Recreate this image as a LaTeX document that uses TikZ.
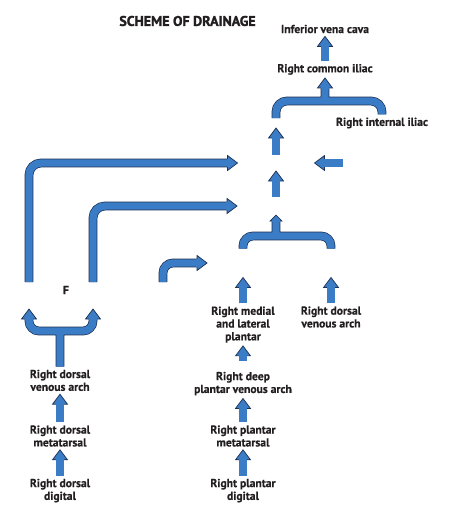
\documentclass[tikz,border=0pt]{standalone}
\usepackage{fontspec}
\setmainfont{PT Sans}[BoldFeatures={FakeBold=0.5}]
\newfontfamily\titlefont{PT Sans}[BoldFeatures={FakeBold=1.8}]

\definecolor{veinblue}{RGB}{59,124,198}
\definecolor{veinedge}{RGB}{28,48,82}
\definecolor{labeltext}{RGB}{35,31,32}

\tikzset{
  fat/.style={draw=veinblue, line width=7.4pt,
              preaction={draw=veinedge, line width=8.8pt}},
  lbl/.style={font=\bfseries\fontsize{11.6}{12.8}\selectfont, align=center,
              inner sep=3pt, text=labeltext},
  erased/.style={inner sep=0pt, outer sep=0pt},
  head/.pic={
    \filldraw[fill=veinblue, draw=veinedge, line width=0.7pt, line join=miter]
      (0,0) -- (-10,7.5) -- (-10,-7.5) -- cycle;
    \fill[veinblue] (-10.8,-3.7) rectangle (-9.2,3.7);
  },
  minihead/.pic={
    \filldraw[fill=veinblue, draw=veinedge, line width=0.7pt, line join=miter]
      (0,0) -- (-6,6) -- (-6,-6) -- cycle;
    \fill[veinblue] (-6.8,-3.7) rectangle (-5.2,3.7);
  }
}

\begin{document}
\begin{tikzpicture}[x=1pt, y=-1pt]
  \useasboundingbox (0,0) rectangle (474,508);

  % printed labels
  \node (title) [lbl, font=\titlefont\bfseries\fontsize{14}{15}\selectfont]
        at (187.5,21) {SCHEME OF DRAINAGE};
  \node (ivc)   [lbl] at (325,29)    {Inferior vena cava};
  \node (rci)   [lbl] at (325,69.4)  {Right common iliac};
  \node (rii)   [lbl] at (382,123)   {Right internal iliac};
  \node (f)     [lbl] at (66,290)    {F};
  \node (rdva1) [lbl] at (60,380.4)  {Right dorsal\\venous arch};
  \node (rdm)   [lbl] at (60,436)    {Right dorsal\\metatarsal};
  \node (rdd)   [lbl] at (60,490.6)  {Right dorsal\\digital};
  \node (rmlp)  [lbl] at (243,324.6) {Right medial\\and lateral\\plantar};
  \node (rdva2) [lbl] at (331,317)   {Right dorsal\\venous arch};
  \node (rdpva) [lbl] at (243,383.6) {Right deep\\plantar venous arch};
  \node (rpm)   [lbl] at (243,436)   {Right plantar\\metatarsal};
  \node (rpd)   [lbl] at (243,490.6) {Right plantar\\digital};

  % labels left blank in the scheme
  \node (rei)  [erased, minimum width=40pt, minimum height=10pt] at (276,123) {};
  \node (fem)  [erased, minimum width=77pt, minimum height=16pt] at (276,163) {};
  \node (dfem) [erased, minimum width=54pt, minimum height=16pt] at (370,163) {};
  \node (pop)  [erased, minimum width=78pt, minimum height=18pt] at (276,206) {};
  \node (pti)  [erased, minimum width=72pt, minimum height=29pt] at (243,263) {};
  \node (ati)  [erased, minimum width=60pt, minimum height=29pt] at (331,263) {};
  \node (gsv)  [erased, minimum width=40pt, minimum height=27pt] at (29,295.5) {};
  \node (ssv)  [erased, minimum width=40pt, minimum height=27pt] at (93,295.5) {};
  \node (perf) [erased, minimum width=40pt, minimum height=27pt] at (163,295.5) {};
  \coordinate (jct1) at (325,101);
  \coordinate (jct2) at (60,331);
  \coordinate (jct3) at (276,236);

  % shafts
  \draw[fat] (rci.north) -- ([yshift=-10pt]ivc.south);
  \draw[fat, rounded corners=11pt] (rei.north) |- (jct1) -| (rii.north)
        (jct1) -- ([yshift=-10pt]rci.south);
  \draw[fat] (fem.north) -- ([yshift=-10pt]rei.south);
  \draw[fat] (pop.north) -- ([yshift=-10pt]fem.south);
  \draw[fat] (dfem.west) -- ([xshift=10pt]fem.east);
  \draw[fat, rounded corners=12pt] (gsv.north) |- ([xshift=-10pt]fem.west);
  \draw[fat, rounded corners=12pt] (ssv.north) |- ([xshift=-10pt]pop.west);
  \draw[fat, rounded corners=10pt] (perf.north) |- ([xshift=-10pt]pti.west);
  \draw[fat, rounded corners=10pt] (pti.north) |- (jct3) -| (ati.north)
        (jct3) -- ([yshift=-6pt]pop.south);
  \draw[fat] (rmlp.north) -- ([yshift=-10pt]pti.south);
  \draw[fat] (rdva2.north) -- ([yshift=-10pt]ati.south);
  \draw[fat] ([yshift=8pt]rdpva.north) -- ([yshift=-10pt]rmlp.south);
  \draw[fat] (rpm.north) -- ([yshift=-10pt]rdpva.south);
  \draw[fat] (rpd.north) -- ([yshift=-10pt]rpm.south);
  \draw[fat, rounded corners=10pt] ([yshift=-10pt]gsv.south) |- (jct2)
        -| ([yshift=-10pt]ssv.south)
        (rdva1.north) -- (jct2);
  \draw[fat] (rdm.north) -- ([yshift=-10pt]rdva1.south);
  \draw[fat] (rdd.north) -- ([yshift=-10pt]rdm.south);

  % heads
  \pic[rotate=90]  at (ivc.south)   {head};
  \pic[rotate=90]  at (rci.south)   {head};
  \pic[rotate=90]  at (rei.south)   {head};
  \pic[rotate=90]  at (fem.south)   {head};
  \pic[rotate=180] at (fem.east)    {head};
  \pic             at (fem.west)    {head};
  \pic             at (pop.west)    {head};
  \pic             at (pti.west)    {head};
  \pic[rotate=90]  at (pop.south)   {minihead};
  \pic[rotate=90]  at (pti.south)   {head};
  \pic[rotate=90]  at (ati.south)   {head};
  \pic[rotate=90]  at (rmlp.south)  {head};
  \pic[rotate=90]  at (rdpva.south) {head};
  \pic[rotate=90]  at (rpm.south)   {head};
  \pic[rotate=90]  at (gsv.south)   {head};
  \pic[rotate=90]  at (ssv.south)   {head};
  \pic[rotate=90]  at (rdva1.south) {head};
  \pic[rotate=90]  at (rdm.south)   {head};
\end{tikzpicture}
\end{document}
